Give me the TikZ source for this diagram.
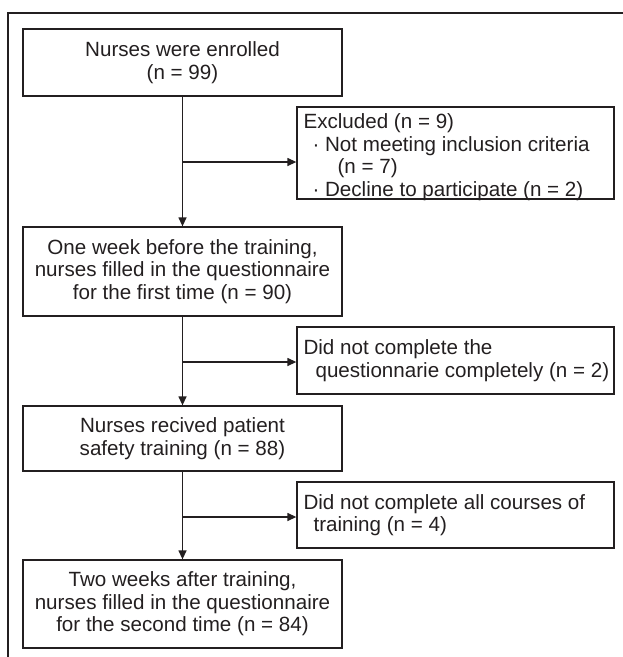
\documentclass[tikz,border=0pt]{standalone}
\usepackage{fontspec}
\setmainfont{Liberation Sans}
\usetikzlibrary{arrows.meta}
\definecolor{ink}{HTML}{231F20}
\begin{document}
\begin{tikzpicture}[x=1pt,y=-1pt,
  every node/.style={font=\fontsize{20.6}{22.5}\selectfont, text=ink},
  mainbox/.style={draw=ink, line width=1.3pt, minimum width=319pt, inner sep=0pt, align=center},
  sidebox/.style={draw=ink, line width=1.3pt, minimum width=317pt, inner sep=0pt},
  sidetext/.style={anchor=west, inner sep=0pt, align=left},
  flow/.style={draw=ink, line width=1.3pt, -{Triangle[length=9pt,width=8pt]}},
  link/.style={draw=ink, line width=1.3pt}]
\useasboundingbox (0,0) rectangle (623,657);
\draw[ink, line width=1.6pt] (8,657) -- (8,13) -- (623,13);

\node[mainbox, minimum height=67pt] (b1) at (182.5,62.5) {Nurses were enrolled\\(n = 99)};
\node[mainbox, minimum height=89pt] (b2) at (182.5,271.5) {One week before the training,\\nurses filled in the questionnaire\\for the first time (n = 90)};
\node[mainbox, minimum height=65pt] (b3) at (182.5,438.5) {Nurses recived patient\\safety training (n = 88)};
\node[mainbox, minimum height=88pt] (b4) at (182.5,604) {Two weeks after training,\\nurses filled in the questionnaire\\for the second time (n = 84)};

\node[sidebox, minimum height=92pt] (e1) at (455.5,153) {};
\node[sidebox, minimum height=67pt] (e2) at (455.5,360.5) {};
\node[sidebox, minimum height=66pt] (e3) at (455.5,515) {};

\node[sidetext] (e1t) at ([xshift=7pt,yshift=-4pt]e1.west) {Excluded (n = 9)\\\hspace*{9pt}·~Not meeting inclusion criteria\\\hspace*{34pt}(n = 7)\\\hspace*{9pt}·~Decline to participate (n = 2)};
\node[sidetext] (e2t) at ([xshift=7pt]e2.west) {Did not complete the\\\hspace*{12pt}questionnarie completely (n = 2)};
\node[sidetext] (e3t) at ([xshift=7pt]e3.west) {Did not complete all courses of\\\hspace*{10pt}training (n = 4)};

\coordinate (j1) at (182.5,162);
\coordinate (j2) at (182.5,362);
\coordinate (j3) at (182.5,517);

\draw[flow] (b1.south) -- (b2.north);
\draw[flow] (b2.south) -- (b3.north);
\draw[flow] (b3.south) -- (b4.north);
\draw[flow] (j1) -- (j1 -| e1.west);
\draw[flow] (j2) -- (j2 -| e2.west);
\draw[flow] (j3) -- (j3 -| e3.west);
\end{tikzpicture}
\end{document}
